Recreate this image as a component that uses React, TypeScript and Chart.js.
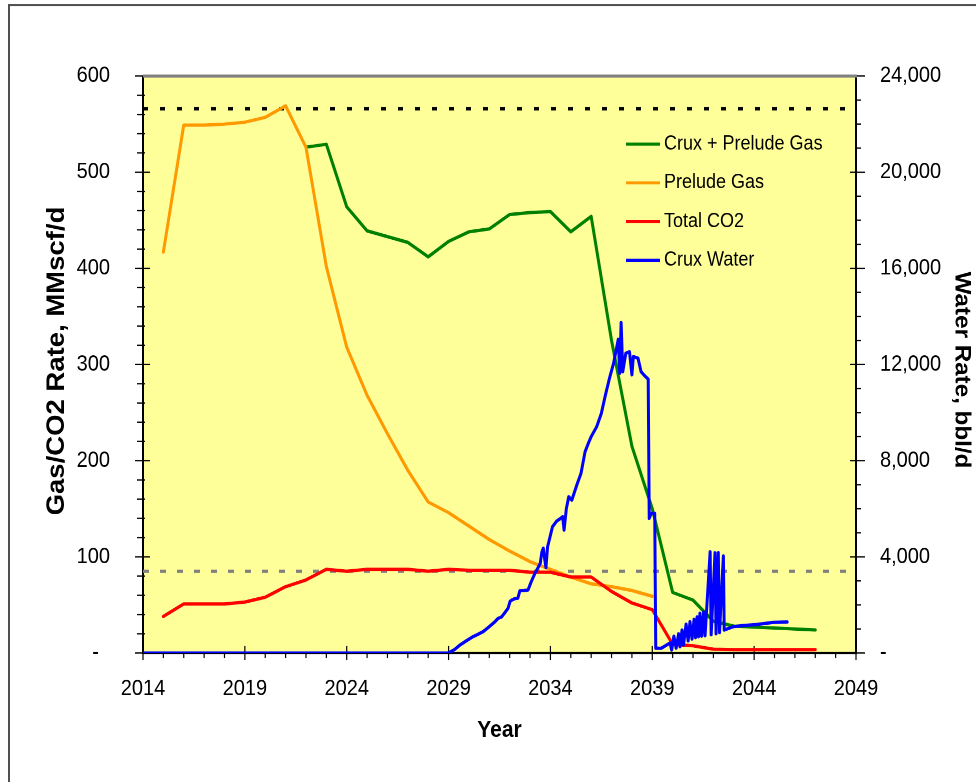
import React, { useEffect, useRef } from 'react';
import { Chart, registerables } from 'chart.js';

Chart.register(...registerables);

// ---- data -------------------------------------------------------------
const gasYears = [
  2015, 2016, 2017, 2018, 2019, 2020, 2021, 2022, 2023, 2024, 2025,
  2026, 2027, 2028, 2029, 2030, 2031, 2032, 2033, 2034, 2035, 2036,
  2037, 2038, 2039, 2040, 2041, 2042, 2043, 2044, 2045, 2046, 2047,
];

// MMscf/d
const cruxPreludeGas: (number | null)[] = [
  null, null, null, null, null, null, null, 526, 529, 464, 439,
  433, 427, 412, 428, 438, 441, 456, 458, 459, 438, 454,
  325, 215, 150, 63, 55, 33, 28, 27, 26, 25, 24,
];

const preludeGas: (number | null)[] = [
  417, 549, 549, 550, 552, 557, 569, 526, 402, 318, 268,
  228, 190, 157, 146, 132, 118, 106, 95, 87, 79, 72,
  69, 65, 59, null, null, null, null, null, null, null, null,
];

const totalCO2: (number | null)[] = [
  38, 51, 51, 51, 53, 58, 69, 76, 87, 85, 87,
  87, 87, 85, 87, 86, 86, 86, 84, 84, 79, 79,
  64, 52, 45, 9, 7.5, 4, 3.5, 3.5, 3.5, 3.5, 3.5,
];

// [year, bbl/d]
const cruxWater: [number, number][] = [
  [2014, 0], [2029.0, 0], [2029.3, 150], [2029.56, 333], [2029.9, 520],
  [2030.2, 680], [2030.45, 780], [2030.7, 890], [2031.0, 1100], [2031.25, 1280],
  [2031.43, 1440], [2031.6, 1500], [2031.8, 1720], [2031.92, 1860], [2032.02, 2150],
  [2032.1, 2200], [2032.25, 2260], [2032.4, 2280], [2032.5, 2590], [2032.7, 2600],
  [2032.9, 2620], [2033.05, 2950], [2033.24, 3315], [2033.4, 3560], [2033.5, 3730],
  [2033.58, 4200], [2033.65, 4360], [2033.72, 3900], [2033.78, 3550], [2033.86, 4420],
  [2034.0, 4900], [2034.1, 5250], [2034.3, 5480], [2034.5, 5600], [2034.6, 5670],
  [2034.67, 5110], [2034.78, 6000], [2034.9, 6500], [2035.05, 6360], [2035.3, 7000],
  [2035.5, 7470], [2035.7, 8370], [2035.85, 8700], [2036.0, 9000], [2036.27, 9410],
  [2036.5, 9970], [2036.7, 10730], [2036.9, 11430], [2037.1, 12050], [2037.25, 12700],
  [2037.33, 13050], [2037.4, 11640], [2037.47, 13740], [2037.55, 11700], [2037.7, 12470],
  [2037.88, 12530], [2038.0, 11570], [2038.07, 12330], [2038.3, 12260], [2038.45, 11700],
  [2038.64, 11520], [2038.8, 11390], [2038.85, 5600], [2038.95, 5810], [2039.12, 5810],
  [2039.17, 200], [2039.45, 200], [2039.87, 420], [2039.95, 125], [2040.06, 700],
  [2040.17, 200], [2040.29, 800], [2040.36, 260], [2040.46, 960], [2040.53, 330],
  [2040.66, 1200], [2040.76, 500], [2040.85, 1300], [2040.95, 580], [2041.05, 1400],
  [2041.12, 640], [2041.2, 1500], [2041.27, 680], [2041.34, 1650], [2041.42, 700],
  [2041.52, 1700], [2041.59, 720], [2041.84, 4210], [2041.89, 760], [2042.08, 4170],
  [2042.13, 800], [2042.24, 4170], [2042.3, 850], [2042.49, 4035], [2042.53, 955],
  [2042.96, 1095], [2043.46, 1140], [2044.14, 1190], [2044.93, 1275], [2045.62, 1290],
];

// horizontal reference levels, MMscf/d
const plantCapacity = 566;
const co2Limit = 85;

// axis ranges and ticks
const yearMin = 2014;
const yearMax = 2049;
const yearTicks = [2014, 2019, 2024, 2029, 2034, 2039, 2044, 2049];
const gasMax = 600;
const gasStep = 100;
const gasMinor = 20;
const waterMax = 24000;
const waterStep = 4000;
const waterMinor = 1000;

const legendItems = [
  { label: 'Crux + Prelude Gas', color: '#008000' },
  { label: 'Prelude Gas', color: '#FF9900' },
  { label: 'Total CO2', color: '#FF0000' },
  { label: 'Crux Water', color: '#0000FF' },
];

// ---- layout -----------------------------------------------------------
const W = 976;
const H = 782;
const CH = 711; // canvas drawing height, stretched to H on screen
const S = H / CH;
const FONT = "'Liberation Sans', Arial, Helvetica, sans-serif";
const PLOT_LEFT = 143;
const PLOT_RIGHT = 856;
const PLOT_TOP = 76 / S;
const PLOT_BOTTOM = 653 / S;

const toPoints = (vals: (number | null)[]) =>
  gasYears
    .map((x, i) => ({ x, y: vals[i] }))
    .filter((p) => p.y !== null) as { x: number; y: number }[];

const levelLine = (v: number) => [
  { x: yearMin, y: v },
  { x: yearMax, y: v },
];

const fmt = (v: number) => v.toLocaleString('en-US');

const framePlugin = {
  id: 'frame',
  beforeDraw(chart: any) {
    const { ctx, chartArea: a } = chart;
    ctx.save();
    ctx.fillStyle = '#FFFFFF';
    ctx.fillRect(0, 0, W, CH);
    ctx.strokeStyle = '#505050';
    ctx.lineWidth = 2;
    ctx.strokeRect(9, 5 / S, W + 20, CH + 20);
    ctx.fillStyle = '#FFFF99';
    ctx.fillRect(a.left, a.top, a.right - a.left, a.bottom - a.top);
    ctx.restore();
  },
  beforeDatasetsDraw(chart: any) {
    const { ctx, chartArea: a, scales } = chart;
    const seg = (x1: number, y1: number, x2: number, y2: number) => {
      ctx.beginPath();
      ctx.moveTo(x1, y1);
      ctx.lineTo(x2, y2);
      ctx.stroke();
    };
    ctx.save();
    ctx.strokeStyle = '#000';
    ctx.lineWidth = 1.2;
    for (let v = 0; v <= gasMax; v += gasMinor) {
      const py = scales.y.getPixelForValue(v);
      const major = v % gasStep === 0;
      seg(a.left - (major ? 8 : 6), py, a.left + (major ? 7 : 2), py);
    }
    for (let v = 0; v <= waterMax; v += waterMinor) {
      const py = scales.y1.getPixelForValue(v);
      const major = v % waterStep === 0;
      seg(a.right - (major ? 6 : 0), py, a.right + (major ? 9 : 5), py);
    }
    for (let yr = yearMin; yr <= yearMax; yr += 1) {
      const px = scales.x.getPixelForValue(yr);
      const major = yearTicks.includes(yr);
      seg(px, a.bottom - (major ? 7 / S : 0), px, a.bottom + (major ? 7 / S : 5 / S));
    }
    // axis lines
    ctx.lineWidth = 2;
    seg(a.left, a.top, a.left, a.bottom);
    seg(a.right, a.top, a.right, a.bottom);
    ctx.lineWidth = 2 / S;
    seg(a.left - 1, a.bottom, a.right + 1, a.bottom);
    ctx.strokeStyle = '#808080';
    ctx.lineWidth = 3 / S;
    seg(a.left, a.top, a.right + 1, a.top);
    ctx.restore();
  },
  afterDraw(chart: any) {
    const { ctx } = chart;
    ctx.save();
    ctx.fillStyle = '#000';
    // axis titles
    ctx.font = `bold 21px ${FONT}`;
    ctx.textAlign = 'center';
    ctx.textBaseline = 'alphabetic';
    ctx.fillText('Year', (PLOT_LEFT + PLOT_RIGHT) / 2, 737 / S);

    ctx.save();
    ctx.font = `bold 25px ${FONT}`;
    ctx.translate(64, 361 / S);
    ctx.rotate(-Math.PI / 2);
    ctx.fillText('Gas/CO2 Rate, MMscf/d', 0, 0);
    ctx.restore();

    ctx.save();
    ctx.font = `bold 22px ${FONT}`;
    ctx.translate(955.5, 370 / S);
    ctx.rotate(Math.PI / 2);
    ctx.fillText('Water Rate, bbl/d', 0, 0);
    ctx.restore();

    // legend
    ctx.font = `18px ${FONT}`;
    ctx.textAlign = 'left';
    ctx.textBaseline = 'middle';
    legendItems.forEach((item, i) => {
      const y = (143 + i * 38.7) / S;
      ctx.strokeStyle = item.color;
      ctx.lineWidth = 3 / S;
      ctx.beginPath();
      ctx.moveTo(626, y + 1);
      ctx.lineTo(660, y + 1);
      ctx.stroke();
      ctx.fillStyle = '#000';
      ctx.fillText(item.label, 664, y + 1);
    });
    ctx.restore();
  },
};

export default function App() {
  const ref = useRef<HTMLCanvasElement | null>(null);

  useEffect(() => {
    if (!ref.current) return;
    const line = (color: string, data: any[], axis = 'y') => ({
      data,
      yAxisID: axis,
      borderColor: color,
      borderWidth: 3,
      pointRadius: 0,
      tension: 0,
      fill: false,
      borderJoinStyle: 'round' as const,
      borderCapStyle: 'round' as const,
    });
    const tickFont = { family: FONT, size: 20 };

    const chart = new Chart(ref.current, {
      type: 'line',
      data: {
        datasets: [
          line('#0000FF', cruxWater.map(([x, y]) => ({ x, y })), 'y1'),
          line('#FF0000', toPoints(totalCO2)),
          line('#FF9900', toPoints(preludeGas)),
          line('#008000', toPoints(cruxPreludeGas)),
          {
            ...line('#000000', levelLine(plantCapacity)),
            borderWidth: 3,
            borderDash: [5, 12],
            borderCapStyle: 'butt' as const,
          },
          {
            ...line('#808080', levelLine(co2Limit)),
            borderWidth: 3,
            borderDash: [6, 11],
            borderCapStyle: 'butt' as const,
          },
        ],
      },
      options: {
        responsive: false,
        animation: false,
        devicePixelRatio: 2,
        events: [],
        layout: { padding: { top: PLOT_TOP, left: 0, right: 0, bottom: 0 } },
        plugins: { legend: { display: false }, tooltip: { enabled: false } },
        scales: {
          x: {
            type: 'linear',
            min: yearMin,
            max: yearMax,
            grid: { display: false, drawTicks: false },
            border: { display: false },
            afterBuildTicks: (s: any) => {
              s.ticks = yearTicks.map((value) => ({ value }));
            },
            afterFit: (s: any) => {
              s.height = CH - PLOT_BOTTOM;
            },
            ticks: {
              autoSkip: false,
              maxRotation: 0,
              padding: 21,
              color: '#000',
              font: tickFont,
              callback: (v: any) => String(v),
            },
          },
          y: {
            position: 'left',
            min: 0,
            max: gasMax,
            grid: { display: false, drawTicks: false },
            border: { display: false },
            afterFit: (s: any) => {
              s.width = PLOT_LEFT;
            },
            ticks: {
              stepSize: gasStep,
              padding: 33,
              color: '#000',
              font: tickFont,
              callback: (v: any) => (Number(v) === 0 ? '-  ' : String(v)),
            },
          },
          y1: {
            position: 'right',
            min: 0,
            max: waterMax,
            grid: { display: false, drawTicks: false },
            border: { display: false },
            afterFit: (s: any) => {
              s.width = W - PLOT_RIGHT;
            },
            ticks: {
              stepSize: waterStep,
              padding: 24,
              color: '#000',
              font: tickFont,
              callback: (v: any) => (Number(v) === 0 ? '-' : fmt(Number(v))),
            },
          },
        },
      },
      plugins: [framePlugin],
    });
    return () => chart.destroy();
  }, []);

  return (
    <div
      style={{
        position: 'absolute',
        left: 0,
        top: 0,
        width: W,
        height: H,
        overflow: 'hidden',
        background: '#fff',
      }}
    >
      <canvas
        ref={ref}
        width={W}
        height={CH}
        style={{
          display: 'block',
          width: `${W}px`,
          height: `${CH}px`,
          transform: `scaleY(${S})`,
          transformOrigin: '0 0',
        }}
      />
    </div>
  );
}
